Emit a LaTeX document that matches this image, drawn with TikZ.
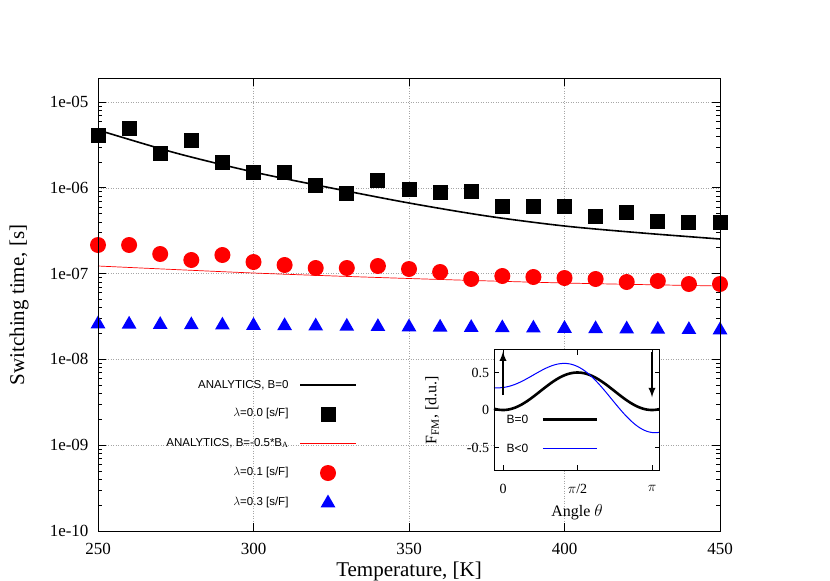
\documentclass[tikz,border=0pt]{standalone}
\usepackage{fontspec}
\setmainfont{Liberation Serif}
\newfontfamily\lsans{Liberation Sans}
\usetikzlibrary{shapes.geometric}
\begin{document}
\begin{tikzpicture}[x=1pt,y=-1pt,
  gridl/.style={gray!70,dotted,line width=0.5pt},
  frame/.style={black,line width=0.8pt},
  sq/.style={fill=black,draw=none,minimum size=15pt,inner sep=0pt},
  ci/.style={circle,fill=red,draw=none,minimum size=16pt,inner sep=0pt},
  tri/.style={regular polygon,regular polygon sides=3,fill=blue,draw=none,minimum size=17pt,inner sep=0pt},
  ticklab/.style={font=\fontsize{17}{17}\selectfont},
  leg/.style={font=\lsans\fontsize{11.5}{12}\selectfont,anchor=east}]
\useasboundingbox (0,0) rectangle (830,581);
% grid
\foreach \x in {253.5,409,564.5}{\draw[gridl] (\x,78) -- (\x,531);}
\foreach \y in {102.0,187.8,273.6,359.4,445.2}{\draw[gridl] (98,\y) -- (720,\y);}
% ticks
\foreach \d in {0,...,5}{
  \pgfmathsetmacro{\yy}{531-\d*85.8}
  \draw[frame] (98,\yy) -- ++(8,0); \draw[frame] (720,\yy) -- ++(-8,0);
  \ifnum\d<5
  \foreach \k in {2,...,9}{
    \pgfmathsetmacro{\ym}{531-(\d+log10(\k))*85.8}
    \draw[frame,line width=0.6pt] (98,\ym) -- ++(4,0); \draw[frame,line width=0.6pt] (720,\ym) -- ++(-4,0);}
  \fi}
\foreach \x in {98,253.5,409,564.5,720}{\draw[frame] (\x,531) -- ++(0,-8); \draw[frame] (\x,78) -- ++(0,8);}
% labels
\foreach \d/\l in {0/1e-10,1/1e-09,2/1e-08,3/1e-07,4/1e-06,5/1e-05}{
  \node[ticklab,anchor=east] (yl\d) at (92,531-\d*85.8) {\l};}
\foreach \x/\l in {98/250,253.5/300,409/350,564.5/400,720/450}{
  \node[ticklab] (xl\l) at (\x,549) {\l};}
\node[font=\fontsize{21}{21}\selectfont] (xlab) at (409,571) {Temperature, [K]};
\node[font=\fontsize{21}{21}\selectfont,rotate=90] (ylab) at (19,305) {Switching time, [s]};
% curves
\draw[line width=1.6pt] plot[smooth] coordinates {(98,130) (175.75,153) (253.5,172) (331.25,188) (409,203) (486.75,216) (564.5,226) (642.25,233) (720,239)};
\draw[red,line width=0.7pt] plot[smooth] coordinates {(98,266) (253.5,273) (409,278.5) (564.5,283) (720,286)};
% markers
\foreach \i/\s/\c in {0/135/245,1/128/245,2/153/254,3/140/260,4/162/255,5/172/262,6/172/265,7/185/268,8/193/268,9/180/266,10/189/269,11/192/272,12/191/279,13/206/276,14/206/277,15/206/278,16/216/279,17/212/282,18/221/281,19/222/284,20/222/284}{
  \pgfmathsetmacro{\xx}{98+\i*31.1}
  \pgfmathsetmacro{\ty}{324+\i*0.3}
  \node[sq] (s\i) at (\xx,\s) {};
  \node[ci] (c\i) at (\xx,\c) {};
  \node[tri] (t\i) at (\xx,\ty) {};}
\draw[frame] (98,78) rectangle (720,531);
% legend
\node[leg] (l1) at (292,385) {ANALYTICS, B=0};
\draw[line width=1.6pt] (300,385) -- (356,385);
\node[leg] (l2) at (292,414) {$\lambda$=0.0 [s/F]};
\node[sq] (ls) at (328,414) {};
\node[leg] (l3) at (292,443) {ANALYTICS, B=-0.5*B$_{\mathrm{A}}$};
\draw[red,line width=0.7pt] (300,443) -- (356,443);
\node[leg] (l4) at (292,473) {$\lambda$=0.1 [s/F]};
\node[ci] (lc) at (328,473) {};
\node[leg] (l5) at (292,503) {$\lambda$=0.3 [s/F]};
\node[tri] (lt) at (328,503) {};
% inset
\begin{scope}[shift={(503,410)},x=47.43pt,y=75pt]
\fill[white] (-0.19,-0.81) rectangle (3.30,0.81);
\draw[line width=2.6pt] plot[domain=-0.19:3.30,samples=80,smooth] (\x,{0.5*sin(\x r)^2});
\draw[blue,line width=1pt] plot[domain=-0.19:3.30,samples=80,smooth] (\x,{0.5*sin(\x r)^2+0.3*cos(\x r)+0.08*sin(\x r)});
\foreach \v/\l in {-0.5/-0.5,0/0,0.5/0.5}{
  \draw[frame] (-0.19,\v) -- ++(5pt,0); \draw[frame] (3.30,\v) -- ++(-5pt,0);
  \node[font=\fontsize{14}{14}\selectfont,anchor=east] (iy\l) at (-0.22,\v) {\l};}
\foreach \v in {0,1.5708,3.1416}{
  \draw[frame] (\v,-0.81) -- ++(0,6pt); \draw[frame] (\v,0.81) -- ++(0,-6pt);}
\node[font=\fontsize{14}{14}\selectfont] (ix0) at (0,-1.05) {0};
\node[font=\fontsize{14}{14}\selectfont] (ix1) at (1.5708,-1.05) {$\pi$/2};
\node[font=\fontsize{14}{14}\selectfont] (ix2) at (3.1416,-1.05) {$\pi$};
\draw[-latex,line width=2.2pt] (0,0.2) -- (0,0.78);
\draw[-latex,line width=2.2pt] (3.1416,0.78) -- (3.1416,0.17);
\node[font=\lsans\fontsize{12}{12}\selectfont,anchor=west] (b0) at (0.0,-0.13) {B=0};
\draw[line width=2.6pt] (0.84,-0.13) -- (1.98,-0.13);
\node[font=\lsans\fontsize{12}{12}\selectfont,anchor=west] (b1) at (0.0,-0.51) {B<0};
\draw[blue,line width=1pt] (0.84,-0.51) -- (1.98,-0.51);
\draw[frame] (-0.19,-0.81) rectangle (3.30,0.81);
\end{scope}
\node[font=\fontsize{16}{16}\selectfont] (ax) at (577,512) {Angle $\theta$};
\node[font=\fontsize{16}{16}\selectfont,rotate=90] (ay) at (432,410) {F$_{\mathrm{FM}}$, [d.u.]};
\end{tikzpicture}
\end{document}
